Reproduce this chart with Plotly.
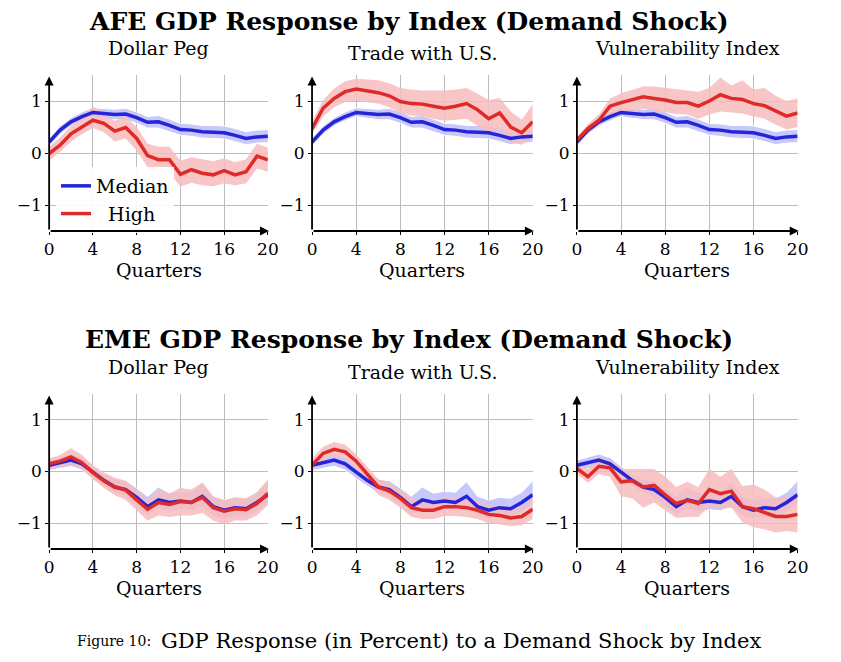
import plotly.graph_objects as go

quarters = list(range(21))

# AFE median (shared across AFE panels)
afe_med = [0.21,0.44,0.60,0.70,0.78,0.76,0.74,0.75,0.68,0.59,0.60,0.53,0.45,0.44,0.41,0.40,0.39,0.34,0.28,0.31,0.32]
afe_med_lo = [0.14,0.36,0.52,0.62,0.70,0.67,0.64,0.64,0.57,0.48,0.48,0.41,0.34,0.32,0.29,0.28,0.27,0.22,0.16,0.19,0.20]
afe_med_hi = [0.28,0.52,0.68,0.79,0.87,0.86,0.84,0.86,0.79,0.70,0.72,0.65,0.57,0.56,0.53,0.53,0.52,0.47,0.41,0.44,0.45]

afe_peg = [-0.01,0.15,0.37,0.50,0.63,0.57,0.42,0.49,0.28,-0.05,-0.13,-0.13,-0.41,-0.32,-0.39,-0.42,-0.34,-0.42,-0.36,-0.06,-0.13]
afe_peg_lo = [-0.15,0.02,0.22,0.36,0.48,0.40,0.22,0.28,0.05,-0.27,-0.37,-0.38,-0.65,-0.57,-0.62,-0.64,-0.58,-0.62,-0.58,-0.30,-0.36]
afe_peg_hi = [0.12,0.30,0.52,0.68,0.90,0.76,0.62,0.70,0.50,0.18,0.12,0.12,-0.15,-0.08,-0.12,-0.16,-0.10,-0.18,-0.12,0.18,0.10]

afe_trade = [0.47,0.86,1.05,1.18,1.23,1.20,1.16,1.10,0.99,0.95,0.94,0.90,0.86,0.90,0.95,0.83,0.66,0.77,0.50,0.39,0.60]
afe_trade_lo = [0.36,0.70,0.88,0.98,1.00,0.98,0.95,0.88,0.76,0.72,0.70,0.66,0.62,0.64,0.66,0.52,0.40,0.46,0.20,0.16,0.30]
afe_trade_hi = [0.60,1.02,1.24,1.38,1.43,1.42,1.40,1.34,1.25,1.22,1.20,1.20,1.20,1.22,1.25,1.14,1.02,1.06,0.80,0.64,0.94]

afe_vuln = [0.25,0.47,0.63,0.90,0.97,1.02,1.08,1.05,1.02,0.97,0.97,0.90,1.00,1.12,1.05,1.03,0.95,0.91,0.81,0.71,0.77]
afe_vuln_lo = [0.20,0.38,0.52,0.72,0.78,0.80,0.85,0.82,0.78,0.75,0.74,0.66,0.74,0.80,0.78,0.76,0.70,0.66,0.55,0.45,0.50]
afe_vuln_hi = [0.30,0.56,0.74,1.05,1.15,1.22,1.28,1.28,1.25,1.22,1.20,1.18,1.25,1.45,1.30,1.40,1.22,1.25,1.10,1.00,1.05]

# EME median (shared across EME panels)
eme_med = [0.12,0.17,0.22,0.15,-0.02,-0.17,-0.30,-0.35,-0.50,-0.68,-0.55,-0.60,-0.57,-0.60,-0.48,-0.68,-0.75,-0.70,-0.72,-0.60,-0.45]
eme_med_lo = [0.02,0.06,0.10,0.03,-0.14,-0.28,-0.42,-0.50,-0.68,-0.85,-0.72,-0.78,-0.74,-0.76,-0.68,-0.86,-0.92,-0.88,-0.88,-0.78,-0.62]
eme_med_hi = [0.22,0.28,0.34,0.27,0.10,-0.05,-0.15,-0.18,-0.32,-0.48,-0.30,-0.42,-0.38,-0.40,-0.20,-0.48,-0.55,-0.50,-0.52,-0.40,-0.18]

eme_peg = [0.15,0.20,0.28,0.17,-0.02,-0.18,-0.30,-0.36,-0.55,-0.73,-0.60,-0.64,-0.58,-0.60,-0.50,-0.70,-0.77,-0.72,-0.74,-0.62,-0.42]
eme_peg_lo = [0.05,0.08,0.14,0.04,-0.15,-0.32,-0.46,-0.55,-0.75,-0.95,-0.85,-0.88,-0.85,-0.85,-0.80,-0.95,-1.02,-0.95,-0.95,-0.85,-0.65]
eme_peg_hi = [0.25,0.32,0.45,0.32,0.12,-0.02,-0.12,-0.18,-0.35,-0.55,-0.35,-0.42,-0.32,-0.35,-0.22,-0.48,-0.55,-0.50,-0.52,-0.40,-0.15]

eme_trade = [0.12,0.35,0.43,0.38,0.20,-0.05,-0.30,-0.38,-0.52,-0.70,-0.75,-0.75,-0.68,-0.68,-0.70,-0.75,-0.83,-0.85,-0.90,-0.87,-0.73]
eme_trade_lo = [0.02,0.22,0.30,0.25,0.06,-0.20,-0.45,-0.55,-0.70,-0.88,-0.92,-0.92,-0.86,-0.86,-0.88,-0.92,-1.00,-1.02,-1.06,-1.04,-0.92]
eme_trade_hi = [0.25,0.48,0.57,0.52,0.34,0.10,-0.15,-0.22,-0.35,-0.52,-0.58,-0.58,-0.50,-0.50,-0.52,-0.58,-0.66,-0.68,-0.72,-0.70,-0.52]

eme_vuln = [0.06,-0.10,0.10,0.07,-0.20,-0.18,-0.30,-0.27,-0.45,-0.62,-0.56,-0.62,-0.35,-0.43,-0.38,-0.68,-0.72,-0.80,-0.87,-0.87,-0.83]
eme_vuln_lo = [-0.05,-0.22,-0.05,-0.10,-0.48,-0.52,-0.70,-0.60,-0.75,-0.90,-0.88,-0.88,-0.68,-0.72,-0.70,-0.98,-1.08,-1.12,-1.18,-1.15,-1.18]
eme_vuln_hi = [0.20,0.05,0.28,0.22,0.05,0.05,0.05,0.05,-0.10,-0.30,-0.20,-0.30,0.05,-0.10,0.05,-0.28,-0.25,-0.35,-0.50,-0.50,-0.48]

panel_titles = ["Dollar Peg", "Trade with U.S.", "Vulnerability Index"]
row_titles = ["AFE GDP Response by Index (Demand Shock)", "EME GDP Response by Index (Demand Shock)"]
legend_names = ["Median", "\u00a0\u00a0High"]
x_label = "Quarters"
x_ticks = [0, 4, 8, 12, 16, 20]
y_ticks = [-1, 0, 1]

panels = [
    (afe_med, afe_med_lo, afe_med_hi, afe_peg, afe_peg_lo, afe_peg_hi),
    (afe_med, afe_med_lo, afe_med_hi, afe_trade, afe_trade_lo, afe_trade_hi),
    (afe_med, afe_med_lo, afe_med_hi, afe_vuln, afe_vuln_lo, afe_vuln_hi),
    (eme_med, eme_med_lo, eme_med_hi, eme_peg, eme_peg_lo, eme_peg_hi),
    (eme_med, eme_med_lo, eme_med_hi, eme_trade, eme_trade_lo, eme_trade_hi),
    (eme_med, eme_med_lo, eme_med_hi, eme_vuln, eme_vuln_lo, eme_vuln_hi),
]

W, H = 841, 662
FONT = "DejaVu Serif"
BLUE = "#2424d8"
RED = "#e02a2a"
BLUE_FILL = "rgba(195,195,250,0.92)"
RED_FILL = "rgba(247,188,188,0.85)"

x_px = [(45, 268), (313, 538), (583, 808)]
y_px = [(75, 231), (394, 549)]

fig = go.Figure()
layout = dict(width=W, height=H, margin=dict(l=0, r=0, t=0, b=0),
              paper_bgcolor="white", plot_bgcolor="white",
              font=dict(family=FONT, color="black"), showlegend=True)
annotations = []

for i, (m, mlo, mhi, h, hlo, hhi) in enumerate(panels):
    r, c = divmod(i, 3)
    k = i + 1
    xa = "x" if k == 1 else f"x{k}"
    ya = "y" if k == 1 else f"y{k}"
    xkey = "xaxis" if k == 1 else f"xaxis{k}"
    ykey = "yaxis" if k == 1 else f"yaxis{k}"
    x0, x1 = x_px[c]
    yt, yb = y_px[r]
    layout[xkey] = dict(domain=[x0 / W, x1 / W], range=[0, 20], anchor=ya,
                        tickvals=x_ticks, showgrid=True, gridcolor="#bdbdbd", gridwidth=1,
                        zeroline=False, showline=False, ticks="outside", ticklen=3,
                        tickcolor="black", tickfont=dict(size=17, family=FONT))
    layout[ykey] = dict(domain=[(H - yb) / H, (H - yt) / H], range=[-1.5, 1.5], anchor=xa,
                        tickvals=y_ticks, showgrid=True, gridcolor="#bdbdbd", gridwidth=1,
                        zeroline=False, showline=False, ticks="outside", ticklen=3,
                        tickcolor="black", tickfont=dict(size=17, family=FONT))
    # bands
    fig.add_trace(go.Scatter(x=quarters, y=mhi, mode="lines", line=dict(width=1, color="white"),
                             xaxis=xa, yaxis=ya, showlegend=False, hoverinfo="skip"))
    fig.add_trace(go.Scatter(x=quarters, y=mlo, mode="lines", line=dict(width=1, color="white"),
                             fill="tonexty", fillcolor=BLUE_FILL,
                             xaxis=xa, yaxis=ya, showlegend=False, hoverinfo="skip"))
    fig.add_trace(go.Scatter(x=quarters, y=hhi, mode="lines", line=dict(width=0),
                             xaxis=xa, yaxis=ya, showlegend=False, hoverinfo="skip"))
    fig.add_trace(go.Scatter(x=quarters, y=hlo, mode="lines", line=dict(width=0),
                             fill="tonexty", fillcolor=RED_FILL,
                             xaxis=xa, yaxis=ya, showlegend=False, hoverinfo="skip"))
    # lines
    fig.add_trace(go.Scatter(x=quarters, y=m, mode="lines", line=dict(color=BLUE, width=3.5),
                             xaxis=xa, yaxis=ya, name=legend_names[0], showlegend=(k == 1)))
    fig.add_trace(go.Scatter(x=quarters, y=h, mode="lines", line=dict(color=RED, width=3.5),
                             xaxis=xa, yaxis=ya, name=legend_names[1], showlegend=(k == 1)))
    # axis arrows
    annotations.append(dict(x=0, y=1.47, ax=0, ay=-1.5, xref=xa, yref=ya, axref=xa, ayref=ya,
                            showarrow=True, arrowhead=2, arrowsize=1, arrowwidth=1.8,
                            arrowcolor="black", text=""))
    annotations.append(dict(x=20.1, y=-1.5, ax=0, ay=-1.5, xref=xa, yref=ya, axref=xa, ayref=ya,
                            showarrow=True, arrowhead=2, arrowsize=1, arrowwidth=1.8,
                            arrowcolor="black", text=""))
    # x label
    annotations.append(dict(x=0.5, xref=f"{xa} domain", y=(H - (yb + 39)) / H, yref="paper",
                            text=x_label, showarrow=False, font=dict(size=19, family=FONT),
                            xanchor="center", yanchor="middle"))
    # panel title
    ty = yt - 27 + (5 if c == 1 else 0)
    annotations.append(dict(x=0.5, xref=f"{xa} domain", y=(H - ty) / H, yref="paper",
                            text=panel_titles[c], showarrow=False, font=dict(size=19, family=FONT),
                            xanchor="center", yanchor="middle"))

# row titles
for r, t in enumerate(row_titles):
    cy = 22 if r == 0 else 340
    annotations.append(dict(x=412 / W, xref="paper", y=(H - cy) / H, yref="paper",
                            text=f"<b>{t}</b>", showarrow=False,
                            font=dict(size=25, family=FONT), xanchor="center", yanchor="middle"))

# caption
annotations.append(dict(x=151 / W, xref="paper", y=(H - 641) / H, yref="paper",
                        text="Figure 10:", showarrow=False, font=dict(size=14, family=FONT),
                        xanchor="right", yanchor="middle"))
annotations.append(dict(x=157 / W, xref="paper", y=(H - 641) / H, yref="paper",
                        text="GDP Response (in Percent) to a Demand Shock by Index", showarrow=False,
                        font=dict(size=21, family=FONT), xanchor="left", yanchor="middle"))

layout["annotations"] = annotations
layout["legend"] = dict(x=52 / W, y=(H - 167) / H, xanchor="left", yanchor="top",
                        bgcolor="rgba(255,255,255,0.9)", borderwidth=0, traceorder="normal",
                        font=dict(size=19, family=FONT), itemwidth=30, tracegroupgap=0)
fig.update_layout(**layout)
fig.write_html("out.html", config={"displayModeBar": False},
               post_script="document.body.style.margin='0px';document.body.style.padding='0px';")
